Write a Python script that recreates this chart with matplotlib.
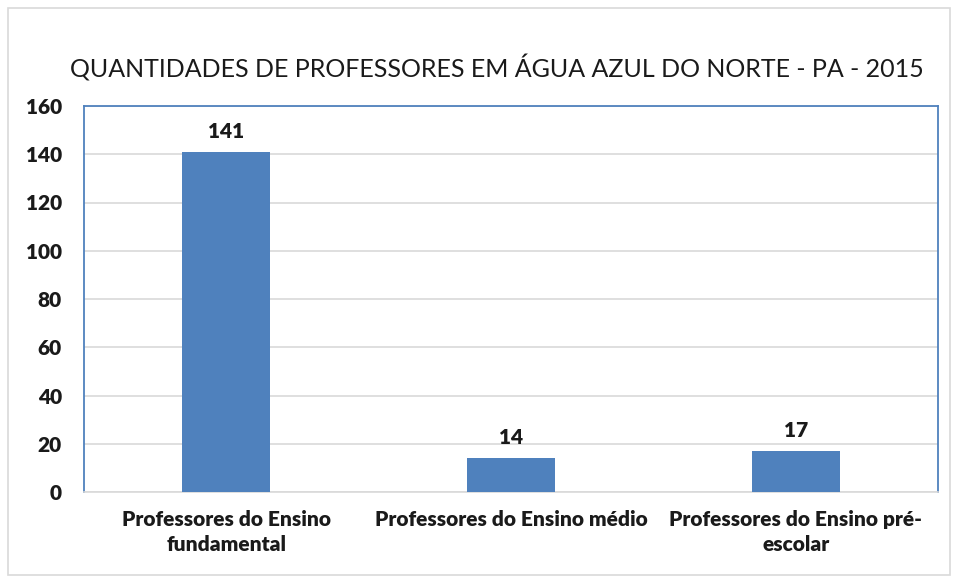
import matplotlib
matplotlib.use("Agg")
import matplotlib.pyplot as plt
from matplotlib.patches import Rectangle

categories = ["Professores do Ensino\nfundamental", "Professores do Ensino médio", "Professores do Ensino pré-\nescolar"]
values = [141, 14, 17]
yticks = [0, 20, 40, 60, 80, 100, 120, 140, 160]
title = "QUANTIDADES DE PROFESSORES EM ÁGUA AZUL DO NORTE - PA - 2015"

plt.rcParams['font.family'] = ['Lato', 'DejaVu Sans']

fig = plt.figure(figsize=(9.55, 5.81), dpi=100)
fig.patches.append(Rectangle((8/955, 6/581), 942/955, 567/581, transform=fig.transFigure,
                             fill=False, edgecolor="#D9D9D9", linewidth=1.2))
ax = fig.add_axes([84/955, 1-492/581, 854/955, 386/581])
x = range(len(categories))
ax.bar(x, values, width=0.31, color="#4F81BD", zorder=3)
ax.set_xlim(-0.5, 2.5)
ax.set_ylim(0, 160)
ax.set_yticks(yticks)
ax.set_yticklabels([str(t) for t in yticks], fontsize=15, fontweight='heavy', color="#1a1a1a")
ax.set_xticks(list(x))
ax.set_xticklabels(categories, fontsize=15, fontweight='heavy', color="#1a1a1a", linespacing=1.4)
ax.tick_params(axis='y', length=0, pad=16)
ax.tick_params(axis='x', length=0, pad=13)
ax.grid(axis='y', color="#D9D9D9", linewidth=1.2, zorder=0)
for s in ['left', 'right', 'top']:
    ax.spines[s].set_color("#4F81BD")
    ax.spines[s].set_linewidth(1.3)
ax.spines['bottom'].set_color("#D9D9D9")
ax.spines['bottom'].set_linewidth(1.2)
for xi, v in zip(x, values):
    ax.annotate(str(v), (xi, v), xytext=(0, 8), textcoords='offset points',
                ha='center', va='bottom', fontsize=15, fontweight='heavy', color="#1a1a1a")
fig.text(497/955, 1-68/581, title, ha='center', va='center', fontsize=18, color="#1a1a1a")
fig.savefig("out.png", dpi=100)
